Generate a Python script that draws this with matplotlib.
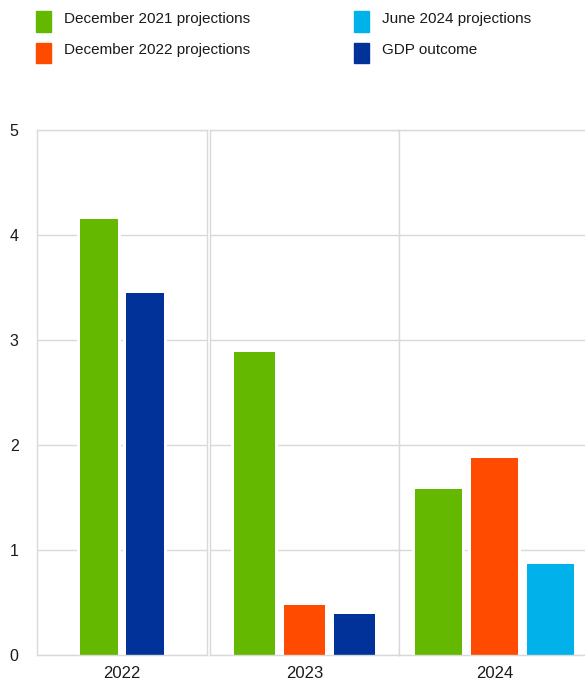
import matplotlib
matplotlib.use("Agg")
import matplotlib.pyplot as plt
from matplotlib.patches import Rectangle

plt.rcParams["font.family"] = ["Liberation Sans", "DejaVu Sans"]

# data
years = ["2022", "2023", "2024"]
series_names = ["December 2021 projections", "December 2022 projections",
                "June 2024 projections", "GDP outcome"]
dec2021 = [4.15, 2.89, 1.58]
dec2022 = [None, 0.47, 1.88]
jun2024 = [None, None, 0.87]
gdp_outcome = [3.45, 0.39, None]
series_values = [dec2021, dec2022, jun2024, gdp_outcome]
colors = ["#65B800", "#FF4B00", "#00B1EA", "#003299"]

# layout (pixels)
W, H = 585, 681
panel_left = [36.7, 209.6, 399.3]
panel_right = [207.0, 399.3, 589.5]
slot_px = [46, 50, 56]
bar_px = [37.3, 41.5, 47.5]
top_px, bottom_px = 130.3, 654.8
gap_px = 6
grid_col = "#d9d9d9"

fig = plt.figure(figsize=(W / 100, H / 100), dpi=100)

for i, yr in enumerate(years):
    l, r = panel_left[i], panel_right[i]
    ax = fig.add_axes([l / W, 1 - bottom_px / H, (r - l) / W, (bottom_px - top_px) / H])
    vals = [(s[i], c) for s, c in zip(series_values, colors) if s[i] is not None]
    n = len(vals)
    half = (r - l) / (2 * slot_px[i])
    for k, (v, c) in enumerate(vals):
        # white halo so the grid stops short of the bars
        ax.bar(k, v, width=(bar_px[i] + gap_px) / slot_px[i], color="white", zorder=1.5)
        ax.bar(k, v, width=bar_px[i] / slot_px[i], color=c, zorder=2)
    ax.set_xlim((n - 1) / 2 - half, (n - 1) / 2 + half)
    ax.set_ylim(0, 5)
    ax.set_yticks(range(6))
    ax.set_xticks([(n - 1) / 2])
    ax.set_xticklabels([yr])
    ax.yaxis.grid(True, color=grid_col, linewidth=1.0)
    ax.set_axisbelow(True)
    ax.tick_params(length=0, labelsize=12, colors="#1a1a1a", pad=8)
    ax.tick_params(axis="y", labelsize=11.5, pad=13)
    if i > 0:
        ax.set_yticklabels([])
    for sp in ax.spines.values():
        sp.set_color(grid_col)
        sp.set_linewidth(1.0)
        sp.set_zorder(3)

# legend
leg_x = [36, 354]
leg_y = [11, 42.7]
order = [(0, 0), (0, 1), (1, 0), (1, 1)]
for (col, row), name, c in zip(order, series_names, colors):
    x0, y0 = leg_x[col], leg_y[row]
    fig.patches.append(Rectangle((x0 / W, 1 - (y0 + 20.7) / H), 15 / W, 20.7 / H,
                                 transform=fig.transFigure, color=c))
    fig.text((x0 + 28.3) / W, 1 - (y0 + 7.5) / H, name, fontsize=11,
             color="#1a1a1a", va="center", ha="left")

fig.savefig("out.png", dpi=100)
